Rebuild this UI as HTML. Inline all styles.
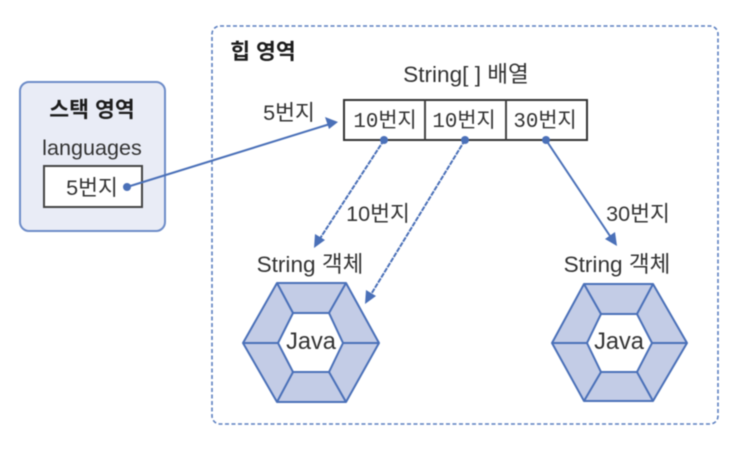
<!DOCTYPE html>
<html lang="ko">
<head>
<meta charset="utf-8">
<style>
html,body{margin:0;padding:0;background:#fff;width:750px;height:460px;overflow:hidden}
svg{display:block;filter:blur(0.65px)}
text{font-family:"Liberation Sans","Noto Sans CJK KR",sans-serif;font-size:21.6px;fill:#333;text-anchor:middle}
.b{font-weight:700;fill:#1c1c1c}
.m{font-family:"Liberation Mono","Noto Sans CJK KR",monospace;font-size:20.8px}
.s{font-size:22.6px}
.j{font-size:23.6px}
.l{stroke:#4a70b8;stroke-width:2;fill:none}
.h{stroke:#4a70b8;stroke-width:2;fill:#c3cce6;stroke-linejoin:round}
</style>
</head>
<body>
<svg width="750" height="460" viewBox="0 0 750 460" xmlns="http://www.w3.org/2000/svg">
<rect x="212" y="26" width="506" height="398" rx="8" fill="#fff" stroke="#5b7fc0" stroke-width="1.6" stroke-dasharray="4 2.5"/>
<rect x="20" y="82" width="145" height="149" rx="9" fill="#e9ecf6" stroke="#6d8cc8" stroke-width="2"/>
<rect x="44" y="166" width="98" height="41" fill="#fff" stroke="#444" stroke-width="2"/>
<rect x="344" y="100" width="243" height="40" fill="#fff" stroke="#333" stroke-width="2"/>
<path d="M425 100V140M506 100V140" stroke="#444" stroke-width="2"/>

<text class="b" x="92" y="117">스택 영역</text>
<text x="92" y="155">languages</text>
<text x="92" y="195">5번지</text>
<text class="b" x="263" y="59">힙 영역</text>
<text class="s" x="466" y="82">String[ ] 배열</text>
<text x="289" y="120">5번지</text>
<text class="m" x="385" y="127">10번지</text>
<text class="m" x="464" y="127">10번지</text>
<text class="m" x="545" y="127">30번지</text>
<text x="378" y="221">10번지</text>
<text x="638" y="221">30번지</text>
<text class="s" x="310" y="272">String 객체</text>
<text class="s" x="617" y="272">String 객체</text>

<g>
<polygon class="h" points="277,283 346,283 379,343 346,402 277,402 243,343"/>
<polygon points="293,313 329,313 343,343 329,372 293,372 278,343" fill="#fff" stroke="#4a70b8" stroke-width="2"/>
<path class="l" d="M277 283L293 313M346 283L329 313M379 343H343M346 402L329 372M277 402L293 372M243 343H278"/>
<text class="j" x="311" y="349">Java</text>
</g>
<g>
<polygon class="h" points="584,284 653,284 687,343 653,401 584,401 552,343"/>
<polygon points="601,314 637,314 652,343 637,372 601,372 587,343" fill="#fff" stroke="#4a70b8" stroke-width="2"/>
<path class="l" d="M584 284L601 314M653 284L637 314M687 343H652M653 401L637 372M584 401L601 372M552 343H587"/>
<text class="j" x="619" y="349">Java</text>
</g>

<path class="l" d="M127 187L330 124"/>
<polygon points="338,122 325,117 329,129" fill="#4a70b8"/>
<circle cx="127" cy="187" r="4" fill="#4a70b8"/>

<path class="l" d="M384 140L319 240" stroke-dasharray="5 1"/>
<polygon points="314,248 315,234 325,240" fill="#4a70b8"/>
<circle cx="384" cy="140" r="4" fill="#4a70b8"/>

<path class="l" d="M465 140L370 296" stroke-dasharray="5 1"/>
<polygon points="365,304 366,290 376,296" fill="#4a70b8"/>
<circle cx="465" cy="140" r="4" fill="#4a70b8"/>

<path class="l" d="M546 140L612 239"/>
<polygon points="617,246 605,239 615,232" fill="#4a70b8"/>
<circle cx="546" cy="140" r="4" fill="#4a70b8"/>
</svg>
</body>
</html>
